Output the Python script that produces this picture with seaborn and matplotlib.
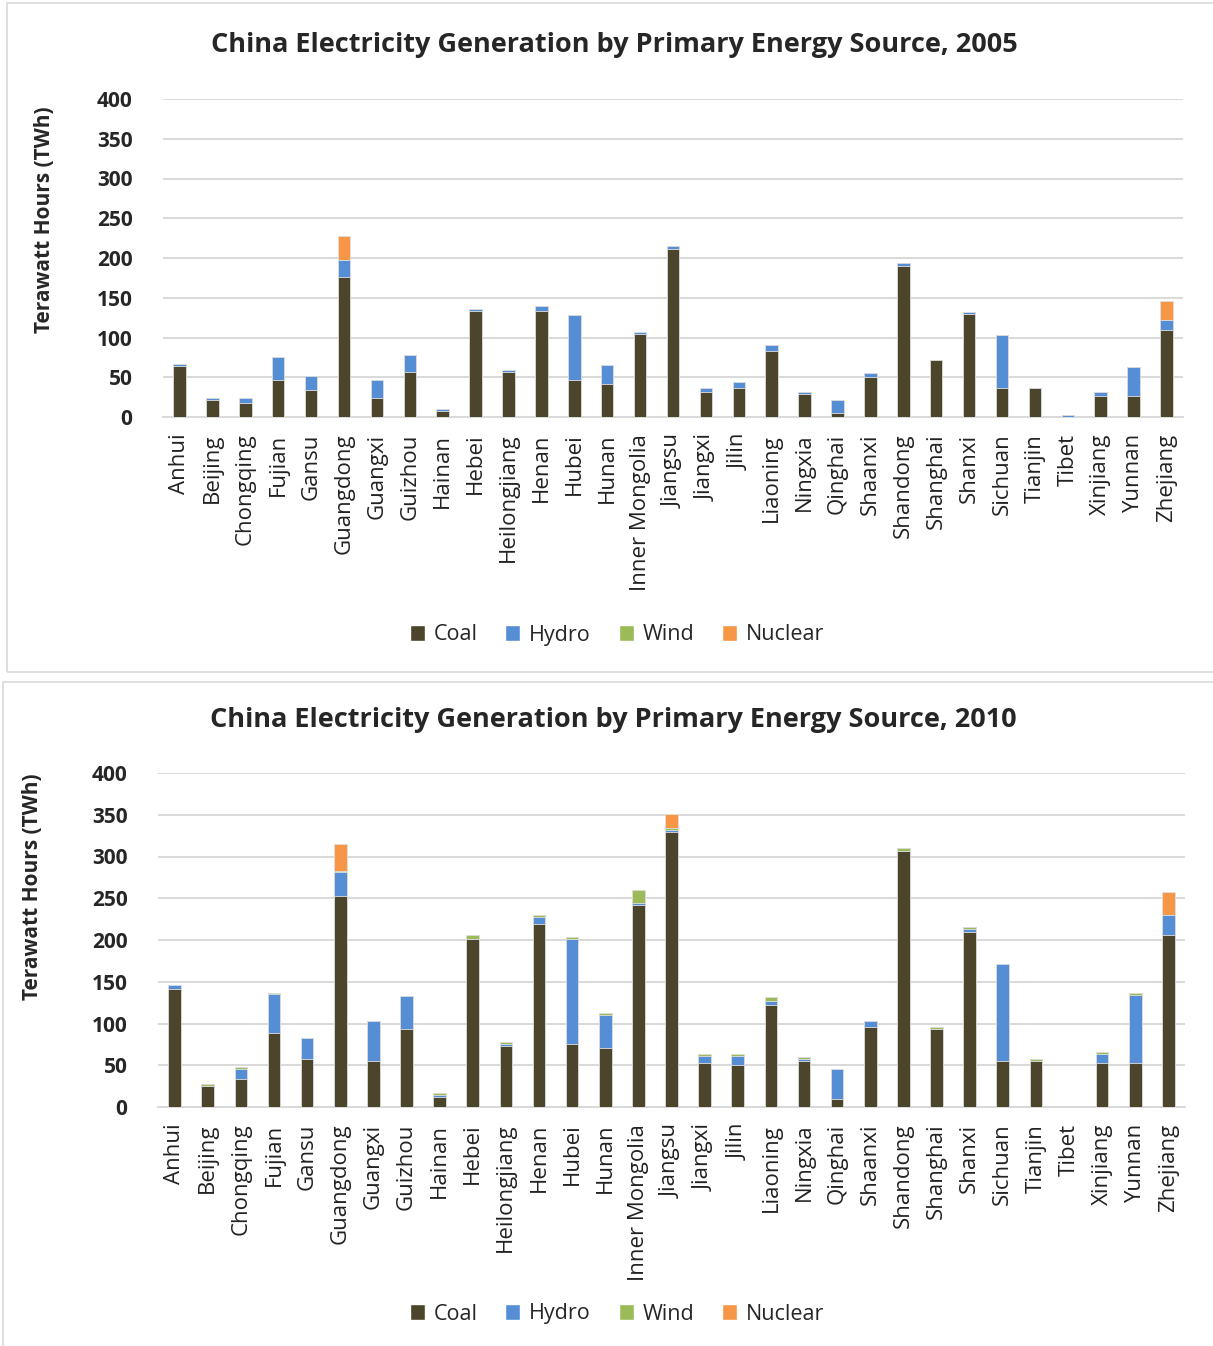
import numpy as np
import pandas as pd
import matplotlib
matplotlib.use("Agg")
import matplotlib.pyplot as plt
from matplotlib.patches import Rectangle, Patch
import seaborn as sns

provinces = ["Anhui", "Beijing", "Chongqing", "Fujian", "Gansu", "Guangdong", "Guangxi",
             "Guizhou", "Hainan", "Hebei", "Heilongjiang", "Henan", "Hubei", "Hunan",
             "Inner Mongolia", "Jiangsu", "Jiangxi", "Jilin", "Liaoning", "Ningxia",
             "Qinghai", "Shaanxi", "Shandong", "Shanghai", "Shanxi", "Sichuan", "Tianjin",
             "Tibet", "Xinjiang", "Yunnan", "Zhejiang"]

# 2005 generation (TWh)
coal_2005 = [64, 21, 18, 47, 34, 176, 24, 57, 7.5, 133, 57, 133, 47, 41, 105, 211,
             31.5, 36, 83, 29, 5, 50.5, 190.5, 72, 129, 36, 36, 0.5, 26.5, 26.5, 109]
hydro_2005 = [3, 3, 6, 29, 17, 21, 22, 21, 2.5, 3, 2.5, 7, 81, 24, 2.5, 3.5,
              4.5, 7.5, 8, 2.5, 17, 4.5, 3, 0, 3, 67, 0, 2.5, 5, 36, 13]
wind_2005 = [0] * 31
nuclear_2005 = [0, 0, 0, 0, 0, 31, 0, 0, 0, 0, 0, 0, 0, 0, 0, 0,
                0, 0, 0, 0, 0, 0, 0, 0, 0, 0, 0, 0, 0, 0, 24]

# 2010 generation (TWh)
coal_2010 = [141, 25, 33, 89, 57, 253, 55, 94, 12, 201, 73.5, 219.5, 76, 71, 242.5, 329.5,
             52.5, 50, 122.5, 55, 9, 96, 306.5, 93.5, 209, 55, 55, 0, 52.5, 52.5, 206.5]
hydro_2010 = [5, 0.5, 13, 46, 25.5, 28, 48, 39, 2, 0.5, 2.5, 8.5, 125, 39, 1.5, 2,
              9, 11, 4.5, 2, 37, 7, 0.5, 0, 4.5, 116, 0, 1, 11, 82, 23]
wind_2010 = [0, 2.5, 2, 2, 0.5, 1.5, 0, 0, 2.5, 5, 2, 2.5, 2.5, 2, 16, 2.5,
             2.5, 2.5, 5, 2.5, 0, 0, 3, 2.5, 2.5, 0, 2.5, 0, 2.5, 2.5, 0.5]
nuclear_2010 = [0, 0, 0, 0, 0, 32.5, 0, 0, 0, 0, 0, 0, 0, 0, 0, 17,
                0, 0, 0, 0, 0, 0, 0, 0, 0, 0, 0, 0, 0, 0, 28]

sources = ["Coal", "Hydro", "Wind", "Nuclear"]
colors = ["#4B452C", "#558ED5", "#9BBB59", "#F79646"]

sns.set_style("white")
plt.rcParams["font.family"] = ["Open Sans", "DejaVu Sans"]

fig = plt.figure(figsize=(12.13, 13.46), dpi=100)
W, H = 1213, 1346


def draw_panel(ax, coal, hydro, wind, nuclear):
    df = pd.DataFrame({"province": provinces, "Coal": coal, "Hydro": hydro,
                       "Wind": wind, "Nuclear": nuclear})
    # stacked bars: draw the running totals from the top layer down
    cum = df[sources].cumsum(axis=1)
    for src, col in reversed(list(zip(sources, colors))):
        sns.barplot(x=df["province"], y=cum[src], color=col, saturation=1,
                    width=0.38, edgecolor="#E0E0E0", linewidth=0.6, ax=ax, zorder=3)
    ax.set_ylim(0, 400)
    ax.set_xlim(-0.5, len(provinces) - 0.5)
    ax.set_yticks(np.arange(0, 401, 50))
    ax.yaxis.grid(True, color="#D9D9D9", linewidth=1.4, zorder=0)
    ax.set_axisbelow(True)
    for s in ["top", "right", "left"]:
        ax.spines[s].set_visible(False)
    ax.spines["bottom"].set_color("#D9D9D9")
    ax.spines["bottom"].set_linewidth(1.4)
    ax.tick_params(axis="both", length=0)
    ax.tick_params(axis="y", pad=22)
    ax.tick_params(axis="x", pad=12)
    ax.set_xticks(range(len(provinces)))
    ax.set_xticklabels(provinces, rotation=90, fontsize=16, color="#222222")
    for t in ax.get_yticklabels():
        t.set_fontsize(15)
        t.set_fontweight("bold")
    ax.set_xlabel("")
    ax.set_ylabel("Terawatt Hours (TWh)", fontsize=15, fontweight="bold")


# top panel
ax1 = fig.add_axes([163 / W, 1 - 417 / H, 1020 / W, 318 / H])
draw_panel(ax1, coal_2005, hydro_2005, wind_2005, nuclear_2005)
ax1.yaxis.set_label_coords(-0.106, 0.62)
fig.text(614 / W, 1 - 45 / H, "China Electricity Generation by Primary Energy Source, 2005",
         ha="center", va="center", fontsize=19.5, fontweight="bold")

# bottom panel
ax2 = fig.add_axes([158 / W, 1 - 1107 / H, 1027 / W, 334 / H])
draw_panel(ax2, coal_2010, hydro_2010, wind_2010, nuclear_2010)
ax2.yaxis.set_label_coords(-0.112, 0.66)
fig.text(613 / W, 1 - 720 / H, "China Electricity Generation by Primary Energy Source, 2010",
         ha="center", va="center", fontsize=19.5, fontweight="bold")

handles = [Patch(facecolor=c, label=s) for s, c in zip(sources, colors)]
for ypix in (635, 1314):
    fig.legend(handles=handles, loc="center", bbox_to_anchor=(617 / W, 1 - ypix / H),
               ncol=4, frameon=False, fontsize=15.5, handlelength=0.7, handleheight=0.7,
               handletextpad=0.4, columnspacing=1.3)

# chart area borders
fig.patches.append(Rectangle((7 / W, 1 - 672 / H), 1210 / W, 669 / H, transform=fig.transFigure,
                             fill=False, edgecolor="#D9D9D9", linewidth=1.2))
fig.patches.append(Rectangle((3 / W, 1 - 1350 / H), 1214 / W, 668 / H, transform=fig.transFigure,
                             fill=False, edgecolor="#D9D9D9", linewidth=1.2))

fig.savefig("out.png", dpi=100)
